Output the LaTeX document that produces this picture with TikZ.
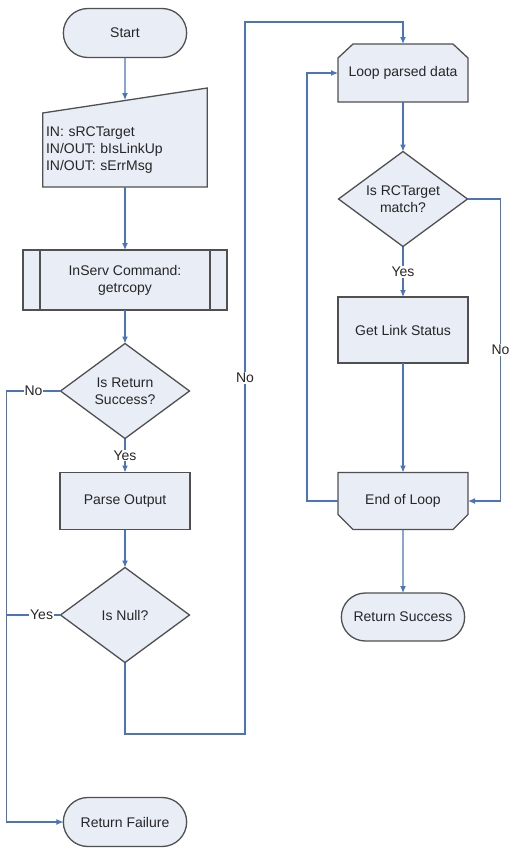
\documentclass[tikz,border=0pt]{standalone}
\usepackage{fontspec}
\setmainfont{Liberation Sans}
\usetikzlibrary{shapes.geometric,shapes.misc,arrows.meta,backgrounds}
\newcommand{\flowFont}[0]{\fontsize{14}{17}\selectfont}
\newcommand{\boxWidth}[0]{1.3pt}
\newcommand{\flowWidth}[0]{1.1pt}
\definecolor{boxfill}{HTML}{E8EDF6}
\definecolor{boxline}{HTML}{505050}
\definecolor{flowblue}{HTML}{4B75BA}

\begin{document}
\begin{tikzpicture}[x=1pt, y=-1pt]
  \tikzset{every node/.style={font=\flowFont, text=black!85, outer sep=0pt}}
  \tikzset{box/.style={draw=boxline, fill=boxfill, line width=\boxWidth, minimum width=130pt, align=center}}
  \tikzset{term/.style={box, rounded rectangle, minimum height=49pt}}
  \tikzset{proc/.style={box, rectangle}}
  \tikzset{test/.style={box, diamond, aspect=1.37, inner sep=0pt, minimum width=129pt, minimum height=95pt}}
  \tikzset{blank/.style={rectangle, minimum width=130pt, align=center}}
  \tikzset{flow/.style={draw=flowblue, line width=\flowWidth, -{Latex[length=7pt, width=6pt]}}}
  \tikzset{branch/.style={draw=flowblue, line width=\flowWidth}}
  \tikzset{lbl/.style={fill=white, inner sep=1pt}}
  \useasboundingbox (0,0) rectangle (521,863);

  \node[term] (Start) at (125,33) {Start};
  \node[blank, minimum width=162pt, minimum height=74pt, text width=158pt, align=left] (In) at (125,150)
    {IN: sRCTarget\\IN/OUT: bIsLinkUp\\IN/OUT: sErrMsg};
  \coordinate (In-top) at (125,100);
  \node[proc, minimum width=204pt, minimum height=60pt] (Cmd) at (125,280) {InServ Command:\\getrcopy};
  \node[test] (Q-1) at (125,391) {Is Return\\Success?};
  \node[proc, minimum height=57pt] (Parse) at (125,501) {Parse Output};
  \node[test] (Q-2) at (125,615) {Is Null?};
  \node[term] (Fail) at (125,822) {Return Failure};

  \node[blank, minimum height=58pt] (Loop) at (403,73) {Loop parsed data};
  \node[test] (Q-3) at (403,199) {Is RCTarget\\match?};
  \node[proc, minimum height=66pt] (Link) at (403,330) {Get Link Status};
  \node[blank, minimum height=57pt] (End) at (403,501) {End of Loop};
  \node[term, minimum height=48pt] (Success) at (403,617) {Return Success};

  \coordinate (J-1) at (245,734);
  \coordinate (J-2) at (245,22);

  \begin{pgfonlayer}{background}
    \draw[box] (In.north west) -- ([yshift=25pt]In.north east) -- (In.south east) -- (In.south west) -- cycle;
    \draw[box] ([xshift=15pt]Loop.north west) -- ([xshift=-15pt]Loop.north east) -- ([yshift=-14pt]Loop.north east)
      -- (Loop.south east) -- (Loop.south west) -- ([yshift=-14pt]Loop.north west) -- cycle;
    \draw[box] (End.north west) -- (End.north east) -- ([yshift=15pt]End.south east) -- ([xshift=-15pt]End.south east)
      -- ([xshift=15pt]End.south west) -- ([yshift=15pt]End.south west) -- cycle;
  \end{pgfonlayer}
  \draw[boxline, line width=\boxWidth] ([xshift=17pt]Cmd.north west) -- ([xshift=17pt]Cmd.south west);
  \draw[boxline, line width=\boxWidth] ([xshift=-17pt]Cmd.north east) -- ([xshift=-17pt]Cmd.south east);

  \draw[flow] (Start) -- (In-top);
  \draw[flow] (In) -- (Cmd);
  \draw[flow] (Cmd) -- (Q-1);
  \draw[flow] (Q-1) -- node[lbl]{Yes} (Parse);
  \draw[flow] (Q-1.west) -- node[lbl]{No} ++(-54,0) |- (Fail.west);
  \draw[flow] (Parse) -- (Q-2);
  \draw[branch] (Q-2.west) -- node[lbl, pos=0.35]{Yes} ++(-54,0);
  \draw[flow] (Q-2.south) |- (J-1) -- node[lbl]{No} (J-2) -| (Loop.north);
  \draw[flow] (Loop) -- (Q-3);
  \draw[flow] (Q-3) -- node[lbl]{Yes} (Link);
  \draw[flow] (Q-3.east) -- ++(33,0) |- node[lbl, pos=0.25]{No} (End.east);
  \draw[flow] (Link) -- (End);
  \draw[flow] (End.west) -- ++(-31,0) |- (Loop.west);
  \draw[flow] (End) -- (Success);
\end{tikzpicture}
\end{document}
